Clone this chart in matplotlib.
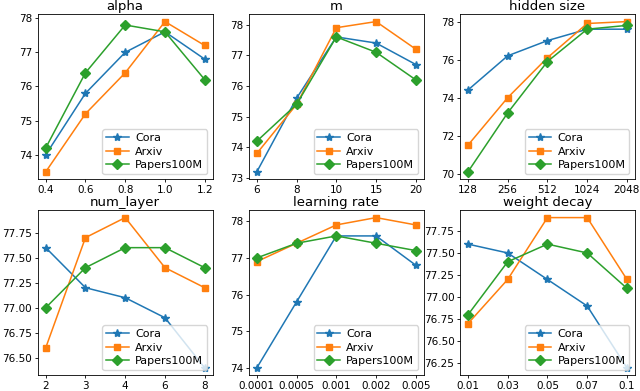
import matplotlib
matplotlib.use("Agg")
import matplotlib.pyplot as plt
from matplotlib.ticker import FormatStrFormatter, MultipleLocator

series = ["Cora", "Arxiv", "Papers100M"]
colors = ["#1f77b4", "#ff7f0e", "#2ca02c"]
markers = ["*", "s", "D"]

titles = ["alpha", "m", "hidden size", "num_layer", "learning rate", "weight decay"]

alpha_x = ["0.4", "0.6", "0.8", "1.0", "1.2"]
alpha_cora = [74.0, 75.8, 77.0, 77.6, 76.8]
alpha_arxiv = [73.5, 75.2, 76.4, 77.9, 77.2]
alpha_papers = [74.2, 76.4, 77.8, 77.6, 76.2]

m_x = ["6", "8", "10", "15", "20"]
m_cora = [73.2, 75.6, 77.6, 77.4, 76.7]
m_arxiv = [73.8, 75.4, 77.9, 78.1, 77.2]
m_papers = [74.2, 75.4, 77.6, 77.1, 76.2]

hid_x = ["128", "256", "512", "1024", "2048"]
hid_cora = [74.4, 76.2, 77.0, 77.6, 77.6]
hid_arxiv = [71.5, 74.0, 76.1, 77.9, 78.0]
hid_papers = [70.1, 73.2, 75.9, 77.6, 77.8]

layer_x = ["2", "3", "4", "6", "8"]
layer_cora = [77.6, 77.2, 77.1, 76.9, 76.4]
layer_arxiv = [76.6, 77.7, 77.9, 77.4, 77.2]
layer_papers = [77.0, 77.4, 77.6, 77.6, 77.4]

lr_x = ["0.0001", "0.0005", "0.001", "0.002", "0.005"]
lr_cora = [74.0, 75.8, 77.6, 77.6, 76.8]
lr_arxiv = [76.9, 77.4, 77.9, 78.1, 77.9]
lr_papers = [77.0, 77.4, 77.6, 77.4, 77.2]

wd_x = ["0.01", "0.03", "0.05", "0.07", "0.1"]
wd_cora = [77.6, 77.5, 77.2, 76.9, 76.2]
wd_arxiv = [76.7, 77.2, 77.9, 77.9, 77.2]
wd_papers = [76.8, 77.4, 77.6, 77.5, 77.1]

panels = [
    (alpha_x, [alpha_cora, alpha_arxiv, alpha_papers]),
    (m_x, [m_cora, m_arxiv, m_papers]),
    (hid_x, [hid_cora, hid_arxiv, hid_papers]),
    (layer_x, [layer_cora, layer_arxiv, layer_papers]),
    (lr_x, [lr_cora, lr_arxiv, lr_papers]),
    (wd_x, [wd_cora, wd_arxiv, wd_papers]),
]

fig, axes = plt.subplots(2, 3, figsize=(6.4, 3.91), dpi=100)
plt.subplots_adjust(left=0.059, right=0.992, top=0.964, bottom=0.040,
                    wspace=0.207, hspace=0.186)

for ax, title, (xlabels, ys) in zip(axes.flat, titles, panels):
    xs = list(range(len(xlabels)))
    for name, y, c, mk in zip(series, ys, colors, markers):
        ms = 6 if mk == "*" else 5
        ax.plot(xs, y, color=c, marker=mk, markersize=ms, linewidth=1.1, label=name)
    ax.set_xticks(xs)
    ax.set_xticklabels(xlabels)
    ax.set_title(title, fontsize=9.5, pad=3)
    ax.tick_params(labelsize=7.5, length=2.5, width=0.6, pad=1.5)
    for sp in ax.spines.values():
        sp.set_linewidth(0.6)
    ax.legend(loc="lower right", fontsize=8, handlelength=2.0,
              borderpad=0.35, labelspacing=0.3, handletextpad=0.6)

for ax in (axes[1, 0], axes[1, 2]):
    ax.yaxis.set_major_locator(MultipleLocator(0.25))
    ax.yaxis.set_major_formatter(FormatStrFormatter("%.2f"))

fig.savefig("out.png", dpi=100)
